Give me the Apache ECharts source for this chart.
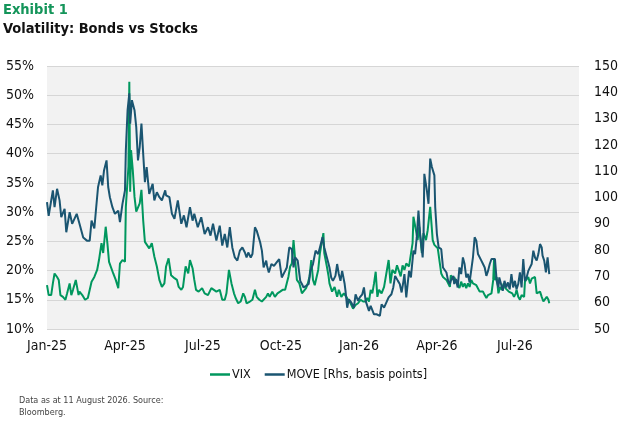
<!DOCTYPE html>
<html>
<head>
<meta charset="utf-8">
<script src="https://cdn.jsdelivr.net/npm/echarts@6/dist/echarts.min.js"></script>
<style>
  html, body { margin: 0; padding: 0; background: #fff; }
  #chart { width: 619px; height: 423px; }
</style>
</head>
<body>
<div id="chart"></div>
<script>
// x axis ticks (one every quarter, starting Jan-25)
var xTickLabels = ['Jan-25', 'Apr-25', 'Jul-25', 'Oct-25', 'Jan-26', 'Apr-26', 'Jul-26'];
var axisStart = '2025-01-01';
var axisEnd = '2026-09-15';

// VIX, % (left axis)
var vixDates = [
  '2025-01-01','2025-01-03','2025-01-06','2025-01-08','2025-01-10','2025-01-13','2025-01-15','2025-01-17','2025-01-20','2025-01-23',
  '2025-01-25','2025-01-28','2025-01-30','2025-02-01','2025-02-04','2025-02-07','2025-02-08','2025-02-11','2025-02-14','2025-02-17',
  '2025-02-19','2025-02-21','2025-02-24','2025-02-27','2025-03-01','2025-03-04','2025-03-06','2025-03-09','2025-03-11','2025-03-13',
  '2025-03-15','2025-03-18','2025-03-21','2025-03-24','2025-03-26','2025-03-29','2025-04-01','2025-04-02','2025-04-05','2025-04-06',
  '2025-04-07','2025-04-08','2025-04-10','2025-04-12','2025-04-14','2025-04-16','2025-04-18','2025-04-20','2025-04-22','2025-04-24',
  '2025-04-26','2025-04-29','2025-05-02','2025-05-05','2025-05-08','2025-05-11','2025-05-14','2025-05-17','2025-05-19','2025-05-22',
  '2025-05-25','2025-05-29','2025-06-01','2025-06-03','2025-06-06','2025-06-08','2025-06-11','2025-06-14','2025-06-16','2025-06-19',
  '2025-06-21','2025-06-23','2025-06-26','2025-06-30','2025-07-03','2025-07-07','2025-07-11','2025-07-13','2025-07-17','2025-07-21',
  '2025-07-24','2025-07-27','2025-07-29','2025-08-01','2025-08-04','2025-08-07','2025-08-09','2025-08-12','2025-08-15','2025-08-18',
  '2025-08-20','2025-08-22','2025-08-26','2025-08-29','2025-09-01','2025-09-03','2025-09-06','2025-09-09','2025-09-11','2025-09-14',
  '2025-09-16','2025-09-18','2025-09-21','2025-09-24','2025-09-27','2025-09-30','2025-10-03','2025-10-06','2025-10-08','2025-10-10',
  '2025-10-12','2025-10-14','2025-10-16','2025-10-18','2025-10-20','2025-10-23','2025-10-26','2025-10-28','2025-10-31','2025-11-02',
  '2025-11-04','2025-11-06','2025-11-08','2025-11-10','2025-11-12','2025-11-14','2025-11-16','2025-11-18','2025-11-20','2025-11-21',
  '2025-11-24','2025-11-26','2025-11-27','2025-11-30','2025-12-03','2025-12-06','2025-12-08','2025-12-11','2025-12-14','2025-12-17',
  '2025-12-19','2025-12-22','2025-12-25','2025-12-28','2025-12-31','2026-01-03','2026-01-06','2026-01-09','2026-01-11','2026-01-13',
  '2026-01-15','2026-01-17','2026-01-19','2026-01-21','2026-01-23','2026-01-25','2026-01-28','2026-01-31','2026-02-02','2026-02-05',
  '2026-02-07','2026-02-09','2026-02-12','2026-02-14','2026-02-16','2026-02-18','2026-02-20','2026-02-22','2026-02-24','2026-02-27',
  '2026-02-28','2026-03-03','2026-03-04','2026-03-07','2026-03-09','2026-03-11','2026-03-14','2026-03-16','2026-03-19','2026-03-21',
  '2026-03-24','2026-03-26','2026-03-27','2026-03-29','2026-03-31','2026-04-02','2026-04-04','2026-04-06','2026-04-08','2026-04-10',
  '2026-04-12','2026-04-14','2026-04-16','2026-04-17','2026-04-20','2026-04-21','2026-04-23','2026-04-25','2026-04-27','2026-04-29',
  '2026-05-01','2026-05-03','2026-05-05','2026-05-07','2026-05-09','2026-05-11','2026-05-13','2026-05-15','2026-05-17','2026-05-19',
  '2026-05-21','2026-05-23','2026-05-25','2026-05-27','2026-05-29','2026-05-31','2026-06-02','2026-06-04','2026-06-06','2026-06-07',
  '2026-06-08','2026-06-10','2026-06-12','2026-06-14','2026-06-16','2026-06-18','2026-06-20','2026-06-22','2026-06-24','2026-06-26',
  '2026-06-28','2026-06-30','2026-07-02','2026-07-03','2026-07-05','2026-07-07','2026-07-09','2026-07-12','2026-07-13','2026-07-15',
  '2026-07-17','2026-07-19','2026-07-21','2026-07-23','2026-07-25','2026-07-26','2026-07-27','2026-07-29','2026-07-31','2026-08-02',
  '2026-08-04','2026-08-06','2026-08-08','2026-08-10','2026-08-11'
];
var vixValues = [
  17.5,15.8,15.8,17.8,19.5,18.9,18.4,15.8,15.5,15.0,
  16.1,17.8,15.8,16.7,18.4,15.8,16.4,15.8,15.0,15.3,
  15.3,18.1,18.9,20.1,21.8,24.7,23.0,27.5,24.7,21.5,
  21.2,19.5,18.4,17.0,21.2,21.8,21.5,30.9,37.8,52.3,
  33.5,40.6,37.2,32.6,30.1,29.8,31.5,33.8,28.6,24.9,
  24.9,23.8,24.7,22.4,20.7,18.4,17.2,17.8,20.7,22.1,
  19.2,18.7,18.4,17.2,16.7,17.2,20.7,19.5,21.8,20.4,
  18.4,16.7,16.4,17.0,16.1,15.8,17.0,17.2,16.4,16.7,
  15.0,15.0,16.1,20.1,17.8,16.1,15.3,14.4,14.7,16.1,
  15.5,14.4,14.7,15.0,16.7,15.5,15.0,14.7,15.0,15.5,
  16.1,15.5,16.4,15.5,16.1,16.4,16.7,16.7,16.4,19.0,
  20.7,21.2,25.2,21.8,18.4,17.8,16.1,15.8,17.0,17.8,
  19.0,21.8,18.4,17.5,17.8,20.1,23.0,24.7,26.4,23.0,
  20.7,19.0,17.8,16.4,17.2,15.5,16.7,15.5,16.1,15.5,
  15.0,14.4,13.5,14.1,14.4,15.0,14.7,14.7,15.3,14.7,
  16.7,16.1,17.8,19.8,15.5,16.7,16.1,17.2,17.2,21.8,
  17.8,20.1,19.5,20.9,20.7,19.0,20.9,20.1,21.2,20.7,
  21.8,24.7,29.2,26.9,25.2,27.5,23.0,26.4,25.2,26.9,
  30.9,30.6,25.2,24.4,24.1,23.8,23.8,19.5,18.9,19.2,
  18.4,18.6,17.2,19.2,18.4,18.9,18.1,18.4,17.0,18.1,
  17.2,17.8,17.0,17.8,17.2,18.4,17.8,18.1,17.5,17.2,
  16.4,16.7,16.4,15.8,15.3,15.8,15.5,16.1,18.4,22.1,
  18.4,18.9,16.1,17.2,16.7,17.8,17.0,17.2,16.4,16.7,
  16.1,15.5,16.1,16.7,15.5,15.0,15.8,15.5,18.1,17.8,
  18.9,17.8,18.6,18.4,18.9,18.6,16.1,15.8,16.4,15.5,
  14.7,15.0,15.5,15.0,14.4
];

// MOVE index, basis points (right axis)
var moveDates = [
  '2025-01-01','2025-01-03','2025-01-08','2025-01-10','2025-01-13','2025-01-16','2025-01-18','2025-01-22','2025-01-24','2025-01-28',
  '2025-01-31','2025-02-05','2025-02-08','2025-02-12','2025-02-16','2025-02-19','2025-02-21','2025-02-24','2025-02-26','2025-02-28',
  '2025-03-03','2025-03-05','2025-03-07','2025-03-10','2025-03-12','2025-03-14','2025-03-17','2025-03-20','2025-03-24','2025-03-26',
  '2025-03-29','2025-04-01','2025-04-02','2025-04-04','2025-04-06','2025-04-07','2025-04-09','2025-04-12','2025-04-14','2025-04-16',
  '2025-04-18','2025-04-20','2025-04-22','2025-04-24','2025-04-26','2025-04-29','2025-05-03','2025-05-05','2025-05-08','2025-05-11',
  '2025-05-14','2025-05-18','2025-05-19','2025-05-23','2025-05-26','2025-05-29','2025-06-02','2025-06-06','2025-06-09','2025-06-12',
  '2025-06-16','2025-06-19','2025-06-21','2025-06-25','2025-06-29','2025-07-03','2025-07-07','2025-07-10','2025-07-13','2025-07-17',
  '2025-07-21','2025-07-24','2025-07-27','2025-07-30','2025-08-02','2025-08-05','2025-08-08','2025-08-11','2025-08-14','2025-08-17',
  '2025-08-20','2025-08-22','2025-08-24','2025-08-27','2025-08-29','2025-09-01','2025-09-03','2025-09-07','2025-09-09','2025-09-11',
  '2025-09-14','2025-09-15','2025-09-17','2025-09-20','2025-09-23','2025-09-26','2025-09-29','2025-10-02','2025-10-04','2025-10-06',
  '2025-10-08','2025-10-11','2025-10-14','2025-10-16','2025-10-18','2025-10-21','2025-10-24','2025-10-26','2025-10-28','2025-10-31',
  '2025-11-03','2025-11-05','2025-11-08','2025-11-11','2025-11-14','2025-11-16','2025-11-19','2025-11-21','2025-11-24','2025-11-26',
  '2025-11-27','2025-11-29','2025-12-01','2025-12-04','2025-12-06','2025-12-08','2025-12-10','2025-12-12','2025-12-15','2025-12-16',
  '2025-12-18','2025-12-20','2025-12-23','2025-12-26','2025-12-28','2025-12-31','2026-01-02','2026-01-05','2026-01-07','2026-01-09',
  '2026-01-11','2026-01-13','2026-01-15','2026-01-17','2026-01-19','2026-01-22','2026-01-24','2026-01-26','2026-01-28','2026-01-31',
  '2026-02-02','2026-02-05','2026-02-06','2026-02-08','2026-02-10','2026-02-12','2026-02-15','2026-02-17','2026-02-19','2026-02-21',
  '2026-02-22','2026-02-24','2026-02-27','2026-03-01','2026-03-04','2026-03-06','2026-03-08','2026-03-10','2026-03-12','2026-03-15',
  '2026-03-16','2026-03-17','2026-03-20','2026-03-22','2026-03-24','2026-03-26','2026-03-29','2026-03-30','2026-04-01','2026-04-03',
  '2026-04-06','2026-04-08','2026-04-10','2026-04-12','2026-04-14','2026-04-16','2026-04-17','2026-04-20','2026-04-21','2026-04-23',
  '2026-04-25','2026-04-27','2026-04-29','2026-05-01','2026-05-03','2026-05-05','2026-05-07','2026-05-09','2026-05-11','2026-05-13',
  '2026-05-15','2026-05-17','2026-05-19','2026-05-21','2026-05-23','2026-05-25','2026-05-27','2026-05-29','2026-05-31','2026-06-02',
  '2026-06-04','2026-06-06','2026-06-08','2026-06-10','2026-06-12','2026-06-13','2026-06-15','2026-06-17','2026-06-19','2026-06-21',
  '2026-06-23','2026-06-25','2026-06-27','2026-06-29','2026-07-01','2026-07-03','2026-07-05','2026-07-07','2026-07-09','2026-07-11',
  '2026-07-13','2026-07-15','2026-07-17','2026-07-19','2026-07-21','2026-07-23','2026-07-25','2026-07-27','2026-07-29','2026-07-31',
  '2026-08-02','2026-08-03','2026-08-05','2026-08-07','2026-08-09','2026-08-11'
];
var moveValues = [
  98.2,93.0,102.7,96.3,103.3,98.9,92.5,95.7,86.8,94.4,
  90.0,93.8,90.0,84.8,83.6,83.6,91.2,88.2,96.3,104.0,
  108.4,104.6,110.3,114.1,104.0,100.1,96.3,93.8,95.0,90.6,
  97.6,102.7,118.0,133.2,139.6,128.1,137.0,133.2,126.8,114.1,
  119.2,128.1,116.7,105.8,111.6,101.4,105.2,98.9,102.0,100.1,
  98.9,102.7,100.8,100.1,93.8,91.9,98.9,90.0,93.2,88.7,
  96.3,91.2,93.8,88.7,92.5,86.1,88.7,85.5,90.0,83.6,
  89.3,81.7,86.1,81.0,88.7,81.0,77.2,76.0,79.8,81.0,
  79.1,77.2,79.1,77.2,78.5,88.7,87.4,83.0,79.8,73.4,
  76.0,74.0,71.5,74.7,74.0,75.3,76.6,69.6,69.0,72.1,
  73.4,81.0,80.4,73.4,77.2,76.0,68.3,67.1,65.8,66.4,
  67.1,72.1,74.7,79.8,78.5,81.0,84.9,81.0,77.2,74.7,
  73.4,69.6,68.3,70.2,74.7,70.9,68.3,72.1,67.1,64.5,
  58.1,61.3,60.0,58.1,63.2,60.7,62.0,63.2,65.8,60.7,
  61.3,56.9,58.8,58.1,55.6,55.6,55.0,55.0,59.4,58.1,
  58.1,62.0,62.0,63.2,65.8,70.2,68.3,67.1,63.9,68.3,
  70.9,62.0,72.1,69.6,79.8,78.5,84.9,95.0,86.1,77.2,
  83.6,109.0,102.7,97.6,114.8,111.6,108.4,96.3,86.1,81.0,
  80.4,73.4,73.4,71.5,68.3,67.1,68.3,70.2,67.1,69.0,
  65.8,73.4,70.9,77.2,74.7,69.6,70.9,67.7,68.3,77.2,
  84.9,83.6,78.5,78.5,76.0,74.7,73.4,70.2,72.1,74.7,
  76.6,76.0,76.6,68.3,65.8,69.6,67.1,64.5,68.3,65.8,
  67.7,65.1,70.9,65.8,68.3,65.1,67.1,71.5,65.8,76.6,
  68.3,69.6,72.1,72.8,74.7,79.8,77.2,76.0,78.5,82.3,
  81.0,77.9,76.0,71.5,77.2,70.9
];

// months elapsed since axisStart, as a fraction (so quarters sit 3 units apart)
function toMonths(s) {
  var p = s.split('-').map(Number);
  var s0 = axisStart.split('-').map(Number);
  var dim = new Date(p[0], p[1], 0).getDate();
  return (p[0] - s0[0]) * 12 + (p[1] - s0[1]) + (p[2] - 1) / dim;
}

function pairs(dates, values) {
  return dates.map(function (d, i) { return [toMonths(d), values[i]]; });
}

var font = 'DejaVu Sans Condensed';
var vixColor = '#00975e';
var moveColor = '#1a5571';

var chart = echarts.init(document.getElementById('chart'), null, { renderer: 'canvas' });

chart.setOption({
  animation: false,
  backgroundColor: '#ffffff',
  textStyle: { fontFamily: font },
  title: [
    {
      text: 'Exhibit 1',
      left: 3, top: 3, padding: 0,
      textStyle: { color: '#14955a', fontSize: 14.5, fontWeight: 'bold', fontFamily: font }
    },
    {
      text: 'Volatility: Bonds vs Stocks',
      left: 3, top: 22, padding: 0,
      textStyle: { color: '#111', fontSize: 14.5, fontWeight: 'bold', fontFamily: font }
    },
    {
      text: 'Data as at 11 August 2026. Source:\nBloomberg.',
      left: 19, top: 395, padding: 0,
      textStyle: { color: '#444', fontSize: 9, fontWeight: 'normal', lineHeight: 11.5, fontFamily: font }
    }
  ],
  legend: {
    top: 363,
    left: 205,
    icon: 'rect',
    itemWidth: 20,
    itemHeight: 2.5,
    itemGap: 14,
    textStyle: { fontSize: 12.5, color: '#111', fontFamily: font, padding: [0, 0, 0, -3] },
    data: ['VIX', 'MOVE [Rhs, basis points]']
  },
  grid: {
    left: 47, right: 40, top: 66, bottom: 94,
    show: true,
    backgroundColor: '#f2f2f2',
    borderWidth: 0,
    outerBoundsMode: 'none'
  },
  xAxis: {
    type: 'value',
    min: 0,
    max: toMonths(axisEnd),
    interval: 3,
    axisLine: { show: false },
    axisTick: { show: false },
    splitLine: { show: false },
    axisLabel: {
      margin: 10,
      fontSize: 14,
      color: '#111',
      fontFamily: font,
      showMaxLabel: false,
      formatter: function (v) {
        var i = Math.round(v / 3);
        return Math.abs(v - i * 3) < 1e-6 ? (xTickLabels[i] || '') : '';
      }
    }
  },
  yAxis: [
    {
      type: 'value',
      min: 10, max: 55, interval: 5,
      axisLine: { show: false },
      axisTick: { show: false },
      splitLine: { show: true, lineStyle: { color: '#d6d6d6', width: 1 } },
      axisLabel: { margin: 13, fontSize: 14, color: '#111', fontFamily: font, formatter: '{value}%' }
    },
    {
      type: 'value',
      min: 50, max: 150, interval: 10,
      axisLine: { show: false },
      axisTick: { show: false },
      splitLine: { show: false },
      axisLabel: { margin: 15, fontSize: 14, color: '#111', fontFamily: font }
    }
  ],
  series: [
    {
      name: 'VIX',
      type: 'line',
      yAxisIndex: 0,
      data: pairs(vixDates, vixValues),
      showSymbol: false,
      symbol: 'none',
      lineStyle: { color: vixColor, width: 2 },
      itemStyle: { color: vixColor }
    },
    {
      name: 'MOVE [Rhs, basis points]',
      type: 'line',
      yAxisIndex: 1,
      data: pairs(moveDates, moveValues),
      showSymbol: false,
      symbol: 'none',
      lineStyle: { color: moveColor, width: 2 },
      itemStyle: { color: moveColor }
    }
  ]
});
</script>
</body>
</html>
